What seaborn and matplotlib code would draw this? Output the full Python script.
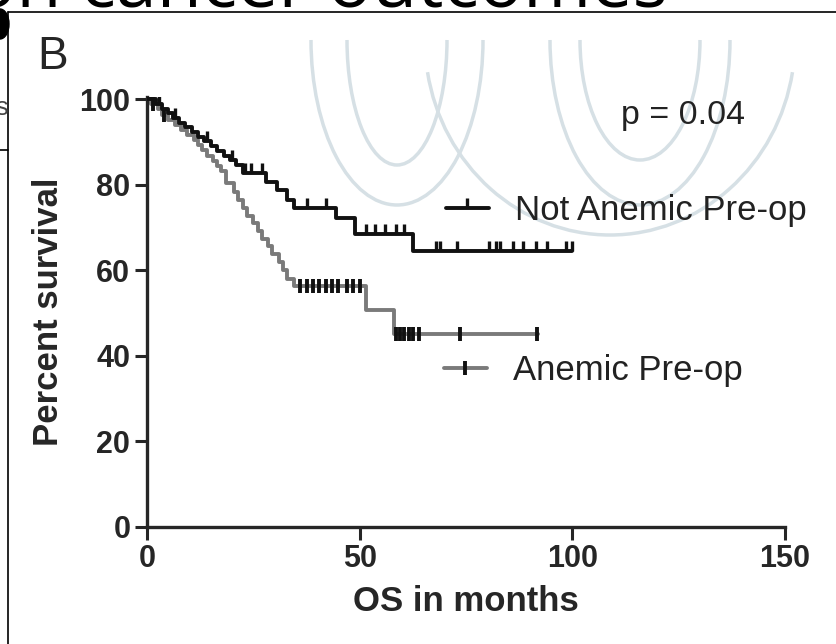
import numpy as np
import pandas as pd
import seaborn as sns
import matplotlib.pyplot as plt
from matplotlib.lines import Line2D
from matplotlib.patches import Arc, Ellipse

# survival steps (time in months, percent surviving after the step)
not_anemic_t = [0, 2, 3.5, 5, 6, 7.5, 9, 10.5, 12, 13.5, 15, 16.5, 18, 19.5, 21, 22.5,
                28, 30.5, 33, 34.5, 44.5, 49, 62.5]
not_anemic_s = [100, 98.9, 97.8, 96.7, 95.6, 94.5, 93.4, 92.3, 91.2, 90.1, 89, 87.9, 86.8,
                85.7, 84.6, 82.7, 80.6, 78.7, 76.5, 74.5, 72.3, 68.5, 64.6]
not_anemic_end = 100
not_anemic_cens = [1, 2.8, 6.5, 14, 20, 23, 24.5, 27, 37.5, 42, 51.5, 53.5, 56, 58.5, 60.5,
                   68, 69, 73, 80.5, 82, 83, 86, 88.5, 91.5, 94, 98.5, 100]

anemic_t = [0, 1, 2.5, 3.5, 5, 6.5, 8, 9.5, 11, 12, 13, 14, 15.5, 16.5, 17.5, 18.5, 20.5,
            21.5, 22.5, 23.5, 25, 26, 27, 28.5, 29.5, 31, 32, 33, 34.5, 51.5, 58]
anemic_s = [100, 98.8, 97.6, 96.4, 95.2, 94, 92.8, 91.6, 90.4, 89.2, 88, 86.8, 85.6, 84.4,
            83.2, 80.4, 78.2, 76.4, 74.6, 72.8, 71, 69.2, 67.4, 65.6, 63.8, 62, 60, 58, 56.3,
            50.7, 45]
anemic_end = 92
anemic_cens = [1.5, 4, 36, 37.5, 39, 40.5, 42, 43.5, 45, 47, 48.5, 50,
               58.5, 59.5, 60.5, 61.5, 62.5, 64, 73.5, 91.8]

x_ticks = [0, 50, 100, 150]
y_ticks = [0, 20, 40, 60, 80, 100]


def step_at(ts, ss, c):
    i = np.searchsorted(ts, c, side="right") - 1
    return ss[i]


def curve_df(ts, ss, end):
    return pd.DataFrame({"t": ts + [end], "s": ss + [ss[-1]]})


sns.set_style("ticks")
plt.rcParams["font.family"] = ["Liberation Sans", "DejaVu Sans"]

fig = plt.figure(figsize=(8.36, 6.44), dpi=100)

# page background: frame lines, clipped heading and faint watermark
bg = fig.add_axes([0, 0, 1, 1], zorder=0)
bg.set_xlim(0, 836)
bg.set_ylim(644, 0)
bg.axis("off")
wm = "#d6e0e5"
for cx, cy, w, h in [(397, 40, 172, 330), (397, 40, 100, 250), (640, 40, 120, 240), (640, 40, 180, 330)]:
    bg.add_patch(Arc((cx, cy), w, h, theta1=0, theta2=180, color=wm, lw=2.5))
bg.add_patch(Arc((610, 40), 370, 390, theta1=10, theta2=170, color=wm, lw=2.5))
bg.plot([8, 836], [12, 12], color="k", lw=1.2)
bg.plot([8, 8], [12, 644], color="k", lw=1.2)
bg.plot([0, 8], [150, 150], color="k", lw=1.2)
bg.add_patch(Ellipse((0, 24), 18, 30, color="k"))
bg.text(-28, 7, "on cancer outcomes", fontsize=53, family=["Open Sans", "DejaVu Sans"],
        va="baseline", ha="left", color="k")
bg.text(-5, 108, "s", fontsize=18, va="center", ha="left", color="#444")
bg.text(37, 57, "B", fontsize=33, va="center", ha="left")

ax = fig.add_axes([147 / 836, 1 - 527 / 644, 638 / 836, 430 / 644], zorder=1)
ax.patch.set_alpha(0)

sns.lineplot(data=curve_df(not_anemic_t, not_anemic_s, not_anemic_end), x="t", y="s",
             drawstyle="steps-post", color="#111111", lw=2.8, ax=ax, zorder=3)
sns.lineplot(data=curve_df(anemic_t, anemic_s, anemic_end), x="t", y="s",
             drawstyle="steps-post", color="#7a7a7a", lw=2.8, ax=ax, zorder=2)

ax.plot(not_anemic_cens, [step_at(not_anemic_t, not_anemic_s, c) for c in not_anemic_cens],
        ls="none", marker=2, ms=7.5, mew=2.4, color="#111111", zorder=4)
ax.plot(anemic_cens, [step_at(anemic_t, anemic_s, c) for c in anemic_cens],
        ls="none", marker="|", ms=10, mew=2.8, color="#111111", zorder=4)

ax.set_xlim(0, 150)
ax.set_ylim(0, 100.5)
ax.set_xticks(x_ticks)
ax.set_yticks(y_ticks)
ax.tick_params(axis="both", length=9, width=2.2, labelsize=22, direction="out", pad=3)
for lab in ax.get_xticklabels() + ax.get_yticklabels():
    lab.set_fontweight("bold")
for side in ["top", "right"]:
    ax.spines[side].set_visible(False)
for side in ["left", "bottom"]:
    ax.spines[side].set_linewidth(2.4)
ax.set_xlabel("OS in months", fontsize=25, fontweight="bold", labelpad=8)
ax.set_ylabel("Percent survival", fontsize=25, fontweight="bold", labelpad=10)

ax.text(0.743, 0.957, "p = 0.04", transform=ax.transAxes, fontsize=24.5, va="center", ha="left",
        color="#222222")

h1 = Line2D([], [], color="#111111", lw=2.8, marker=2, ms=7.5, mew=2.4)
h2 = Line2D([], [], color="#7a7a7a", lw=2.8, marker="|", ms=10, mew=2.8, markeredgecolor="#111111")
leg1 = ax.legend([h1], ["Not Anemic Pre-op"], loc="center left", bbox_to_anchor=(0.468, 0.736),
                 frameon=False, fontsize=25, handlelength=1.25, handletextpad=0.75,
                 borderpad=0, borderaxespad=0, numpoints=1, labelcolor="#222222")
ax.add_artist(leg1)
ax.legend([h2], ["Anemic Pre-op"], loc="center left", bbox_to_anchor=(0.465, 0.364),
          frameon=False, fontsize=25, handlelength=1.25, handletextpad=0.75,
          borderpad=0, borderaxespad=0, numpoints=1, labelcolor="#222222")

fig.savefig("out.png", dpi=100)
